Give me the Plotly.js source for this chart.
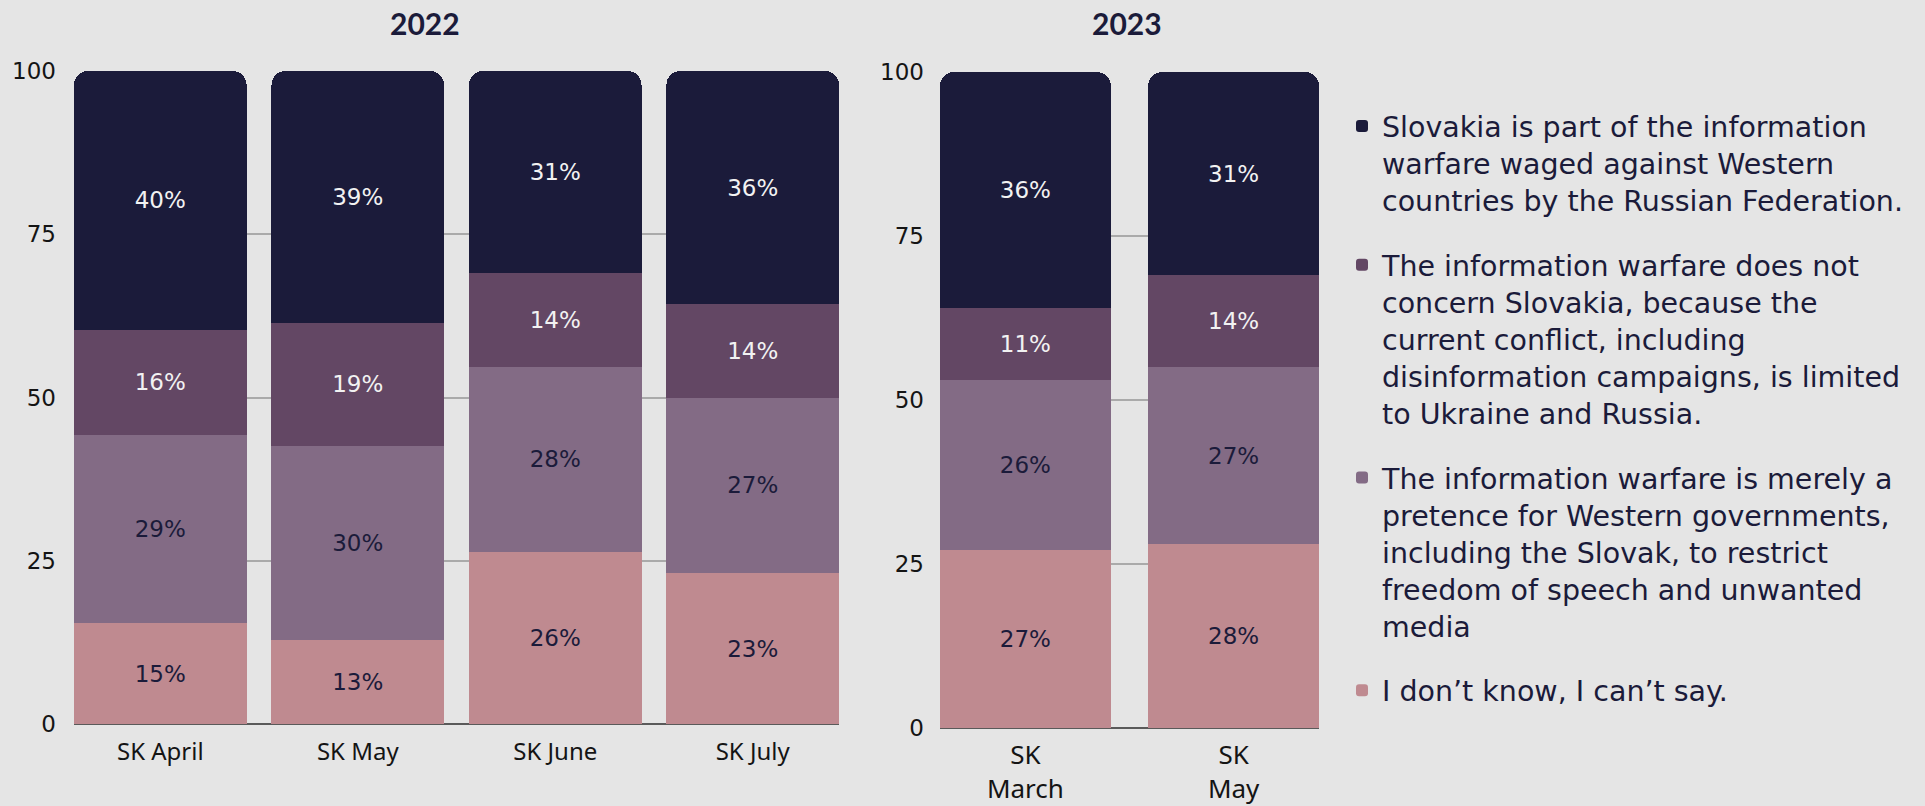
<!DOCTYPE html>
<html>
<head>
<meta charset="utf-8">
<script src="https://cdn.plot.ly/plotly-3.0.1.min.js"></script>
<style>
  html, body { margin: 0; padding: 0; background: #e5e5e5; }
  #chart { width: 1925px; height: 806px; }
</style>
</head>
<body>
<div id="chart"></div>
<script>
// ---- Data ----
const categories2022 = ['SK April', 'SK May', 'SK June', 'SK July'];
const categories2023 = ['SK<br>March', 'SK<br>May'];

const dontKnow2022   = [15.4, 12.8, 26.4, 23.1];
const pretence2022   = [28.8, 29.8, 28.3, 26.9];
const notConcern2022 = [16.2, 18.8, 14.4, 14.3];
const partOf2022     = [39.6, 38.6, 30.9, 35.7];

const dontKnow2023   = [27.1, 28.0];
const pretence2023   = [25.9, 27.0];
const notConcern2023 = [11.1, 14.0];
const partOf2023     = [35.9, 31.0];

const yTicks = [0, 25, 50, 75, 100];
const panelTitles = ['2022', '2023'];

const seriesNames = [
  'I don’t know, I can’t say.',
  'The information warfare is merely a<br>pretence for Western governments,<br>including the Slovak, to restrict<br>freedom of speech and unwanted<br>media',
  'The information warfare does not<br>concern Slovakia, because the<br>current conflict, including<br>disinformation campaigns, is limited<br>to Ukraine and Russia.',
  'Slovakia is part of the information<br>warfare waged against Western<br>countries by the Russian Federation.'
];

// ---- Styles ----
const colors = ['#bf8a90', '#836b85', '#634764', '#1b1b3a'];
const textColors = ['#1b1b3a', '#1b1b3a', '#f2f2f2', '#f2f2f2'];
const BG = '#e5e5e5';
const W = 1925, H = 806;

const data2022 = [dontKnow2022, pretence2022, notConcern2022, partOf2022];
const data2023 = [dontKnow2023, pretence2023, notConcern2023, partOf2023];

const traces = [];
function addTraces(cats, sets, xa, ya, barWidth, showLegend) {
  sets.forEach((vals, i) => {
    traces.push({
      type: 'bar',
      x: cats,
      y: vals,
      name: seriesNames[i],
      legendgroup: 'g' + i,
      legendrank: 1000 - i,
      showlegend: showLegend,
      xaxis: xa,
      yaxis: ya,
      width: barWidth,
      marker: { color: colors[i], line: { width: 0 } },
      texttemplate: '%{y:.0f}%',
      textposition: 'inside',
      insidetextanchor: 'middle',
      textangle: 0,
      constraintext: 'none',
      insidetextfont: { family: 'DejaVu Sans, sans-serif', size: 23, color: textColors[i] },
      hoverinfo: 'x+y+name'
    });
  });
}
addTraces(categories2022, data2022, 'x', 'y', 0.874, true);
addTraces(categories2023, data2023, 'x2', 'y2', 0.82, false);

const yTickFont = { family: 'DejaVu Sans, sans-serif', size: 23, color: '#141414' };
const yCommon = {
  range: [0, 100],
  tickvals: yTicks,
  showgrid: true,
  gridcolor: '#aaaaaa',
  gridwidth: 2,
  zeroline: true,
  zerolinecolor: '#5a5a5a',
  zerolinewidth: 2,
  showline: false,
  ticks: '',
  tickfont: yTickFont,
  fixedrange: true
};
const xCommon = {
  type: 'category',
  showgrid: false,
  zeroline: false,
  showline: false,
  ticks: '',
  fixedrange: true
};

const layout = {
  width: W,
  height: H,
  paper_bgcolor: BG,
  plot_bgcolor: BG,
  margin: { l: 0, r: 0, t: 0, b: 0 },
  barmode: 'stack',
  barcornerradius: 14,
  font: { family: 'Noto Sans, sans-serif', color: '#1b1b3a' },
  xaxis: Object.assign({}, xCommon, {
    domain: [74 / W, 839 / W], range: [-0.437, 3.437], anchor: 'y',
    tickfont: { family: 'Noto Sans, sans-serif', size: 24, color: '#141414' },
    ticklabelstandoff: 11
  }),
  yaxis: Object.assign({}, yCommon, { domain: [1 - 724 / H, 1 - 71 / H], anchor: 'x', ticklabelstandoff: 17 }),
  xaxis2: Object.assign({}, xCommon, {
    domain: [940 / W, 1319 / W], range: [-0.41, 1.41], anchor: 'y2',
    tickfont: { family: 'Noto Sans, sans-serif', size: 26, color: '#141414' },
    ticklabelstandoff: 9
  }),
  yaxis2: Object.assign({}, yCommon, { domain: [1 - 728 / H, 1 - 72 / H], anchor: 'x2', ticklabelstandoff: 15 }),
  legend: {
    x: 1342 / W,
    xanchor: 'left',
    y: 1 - 101 / H,
    yanchor: 'top',
    traceorder: 'grouped',
    tracegroupgap: 24.5,
    valign: 'top',
    bgcolor: 'rgba(0,0,0,0)',
    font: { family: 'DejaVu Sans, sans-serif', size: 28.5, color: '#1b1b3a' }
  },
  annotations: [
    { text: panelTitles[0], xref: 'paper', yref: 'paper', x: 425 / W, y: 1 - 23 / H,
      xanchor: 'center', yanchor: 'middle', showarrow: false,
      font: { family: 'Lato, sans-serif', size: 30, color: '#1b1b3a', weight: 700 } },
    { text: panelTitles[1], xref: 'paper', yref: 'paper', x: 1127 / W, y: 1 - 23 / H,
      xanchor: 'center', yanchor: 'middle', showarrow: false,
      font: { family: 'Lato, sans-serif', size: 30, color: '#1b1b3a', weight: 700 } }
  ]
};

Plotly.newPlot('chart', traces, layout, { displayModeBar: false, staticPlot: true });
</script>
</body>
</html>
